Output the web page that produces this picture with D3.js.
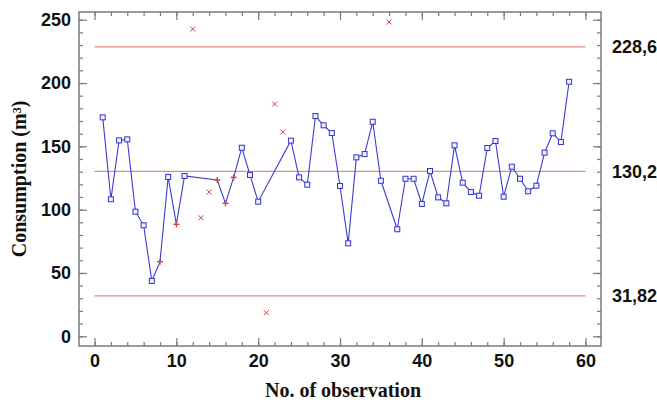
<!DOCTYPE html>
<html>
<head>
    <meta charset="utf-8">
    <script src="https://d3js.org/d3.v7.min.js"></script>
    <style>
        html, body { margin: 0; padding: 0; background: white; }
    </style>
</head>
<body>
    <div id="chart"></div>
    <script>
        // Consumption per observation (obs no. = index + 1)
        const consumption = [
            172.9, 108.2, 154.7, 155.5, 98.4, 87.6, 43.7, 58.9, 125.8, 88.4,
            126.6, 242.6, 93.6, 113.9, 123.4, 105.0, 125.5, 148.9, 127.4, 106.3,
            18.6, 183.4, 161.3, 154.5, 125.5, 119.7, 173.9, 166.6, 160.5, 118.7,
            73.4, 141.3, 143.9, 169.4, 122.8, 248.2, 84.5, 124.4, 124.4, 104.5,
            130.5, 109.7, 105.0, 150.8, 121.3, 113.9, 111.0, 148.7, 154.2, 110.2,
            133.9, 124.4, 114.5, 118.9, 145.0, 160.3, 153.4, 201.0
        ];
        // n = normal, p = flagged (red +), x = excluded (red x)
        const status = [
            "n", "n", "n", "n", "n", "n", "n", "p", "n", "p",
            "n", "x", "x", "x", "p", "p", "p", "n", "n", "n",
            "x", "x", "x", "n", "n", "n", "n", "n", "n", "n",
            "n", "n", "n", "n", "n", "x", "n", "n", "n", "n",
            "n", "n", "n", "n", "n", "n", "n", "n", "n", "n",
            "n", "n", "n", "n", "n", "n", "n", "n"
        ];
        const limitValues = [228.6, 130.2, 31.82];
        const limitLabels = ["228,6", "130,2", "31,82"];
        const xTickLabels = [0, 10, 20, 30, 40, 50, 60];
        const yTickLabels = [0, 50, 100, 150, 200, 250];

        const data = consumption.map((v, i) => ({ obs: i + 1, value: v, status: status[i] }));

        const W = 657, H = 402;
        const plot = { left: 79, top: 12, right: 601, bottom: 346 };

        const svg = d3.select("#chart").append("svg")
            .attr("width", W).attr("height", H)
            .style("font-family", "'Liberation Sans', Arial, sans-serif");

        svg.append("rect").attr("width", W).attr("height", H).attr("fill", "white");

        const x = d3.scaleLinear().domain([-1.9, 61.9]).range([plot.left, plot.right]);
        const y = d3.scaleLinear().domain([-7.7, 256.1]).range([plot.bottom, plot.top]);

        const frameColor = "#7a7a7a";
        const minorX = d3.range(0, 61, 2), minorY = d3.range(0, 251, 10);

        function styleAxis(g) {
            g.select(".domain").remove();
            g.selectAll("line").attr("stroke", frameColor).attr("stroke-width", 1.2);
            g.selectAll("text")
                .attr("fill", "#111")
                .style("font-size", "18px")
                .style("font-weight", "bold");
        }

        // minor ticks on all four sides
        svg.append("g").attr("transform", `translate(0,${plot.bottom})`)
            .call(d3.axisBottom(x).tickValues(minorX).tickSize(-4).tickFormat(""))
            .call(styleAxis);
        svg.append("g").attr("transform", `translate(0,${plot.top})`)
            .call(d3.axisTop(x).tickValues(minorX).tickSize(-4).tickFormat(""))
            .call(styleAxis);
        svg.append("g").attr("transform", `translate(${plot.left},0)`)
            .call(d3.axisLeft(y).tickValues(minorY).tickSize(-4).tickFormat(""))
            .call(styleAxis);
        svg.append("g").attr("transform", `translate(${plot.right},0)`)
            .call(d3.axisRight(y).tickValues(minorY).tickSize(-4).tickFormat(""))
            .call(styleAxis);

        // major ticks
        svg.append("g").attr("transform", `translate(0,${plot.bottom})`)
            .call(d3.axisBottom(x).tickValues(xTickLabels).tickSize(-8).tickPadding(8).tickFormat(d3.format("d")))
            .call(styleAxis);
        svg.append("g").attr("transform", `translate(0,${plot.top})`)
            .call(d3.axisTop(x).tickValues(xTickLabels).tickSize(-8).tickFormat(""))
            .call(styleAxis);
        svg.append("g").attr("transform", `translate(${plot.left},0)`)
            .call(d3.axisLeft(y).tickValues(yTickLabels).tickSize(-8).tickPadding(8).tickFormat(d3.format("d")))
            .call(styleAxis);
        svg.append("g").attr("transform", `translate(${plot.right},0)`)
            .call(d3.axisRight(y).tickValues(yTickLabels).tickSize(-8).tickFormat(""))
            .call(styleAxis);

        // frame
        svg.append("rect")
            .attr("x", plot.left).attr("y", plot.top)
            .attr("width", plot.right - plot.left).attr("height", plot.bottom - plot.top)
            .attr("fill", "none").attr("stroke", frameColor).attr("stroke-width", 1.5);

        // control limits
        svg.selectAll(".limit").data(limitValues).enter().append("line")
            .attr("x1", x(0)).attr("x2", x(60))
            .attr("y1", d => y(d)).attr("y2", d => y(d))
            .attr("stroke", "#e58a80").attr("stroke-width", 1.3);

        svg.selectAll(".limitLabel").data(limitValues).enter().append("text")
            .attr("x", plot.right + 11)
            .attr("y", d => y(d))
            .attr("dy", "0.35em")
            .style("font-size", "18px").style("font-weight", "bold")
            .attr("fill", "#111")
            .text((d, i) => limitLabels[i]);

        // line through included points
        const kept = data.filter(d => d.status !== "x");
        const line = d3.line().x(d => x(d.obs)).y(d => y(d.value));
        svg.append("path").datum(kept)
            .attr("fill", "none")
            .attr("stroke", "#3b3bd6")
            .attr("stroke-width", 1.1)
            .attr("d", line);

        const blue = "#3434c8", red = "#d0403f";

        // squares
        svg.selectAll(".sq").data(data.filter(d => d.status === "n")).enter().append("rect")
            .attr("x", d => x(d.obs) - 2.5).attr("y", d => y(d.value) - 2.5)
            .attr("width", 5).attr("height", 5)
            .attr("fill", "#eef0ff").attr("stroke", blue).attr("stroke-width", 1);

        // red plus markers
        const plus = svg.selectAll(".plus").data(data.filter(d => d.status === "p")).enter().append("g")
            .attr("transform", d => `translate(${x(d.obs)},${y(d.value)})`);
        plus.append("line").attr("x1", -3).attr("x2", 3).attr("stroke", red).attr("stroke-width", 1.4);
        plus.append("line").attr("y1", -3).attr("y2", 3).attr("stroke", red).attr("stroke-width", 1.4);

        // red x markers (excluded)
        const cross = svg.selectAll(".cross").data(data.filter(d => d.status === "x")).enter().append("g")
            .attr("transform", d => `translate(${x(d.obs)},${y(d.value)})`);
        cross.append("line").attr("x1", -2.5).attr("y1", -2.5).attr("x2", 2.5).attr("y2", 2.5)
            .attr("stroke", red).attr("stroke-width", 1);
        cross.append("line").attr("x1", -2.5).attr("y1", 2.5).attr("x2", 2.5).attr("y2", -2.5)
            .attr("stroke", red).attr("stroke-width", 1);

        // axis titles
        svg.append("text")
            .attr("x", (plot.left + plot.right) / 2 + 3)
            .attr("y", 397)
            .attr("text-anchor", "middle")
            .style("font-family", "'Liberation Serif', 'Times New Roman', serif")
            .style("font-size", "20px").style("font-weight", "bold")
            .attr("fill", "#111")
            .text("No. of observation");

        svg.append("text")
            .attr("transform", `translate(26,${(plot.top + plot.bottom) / 2}) rotate(-90)`)
            .attr("text-anchor", "middle")
            .style("font-family", "'Liberation Serif', 'Times New Roman', serif")
            .style("font-size", "20px").style("font-weight", "bold")
            .attr("fill", "#111")
            .text("Consumption (m³)");
    </script>
</body>
</html>
